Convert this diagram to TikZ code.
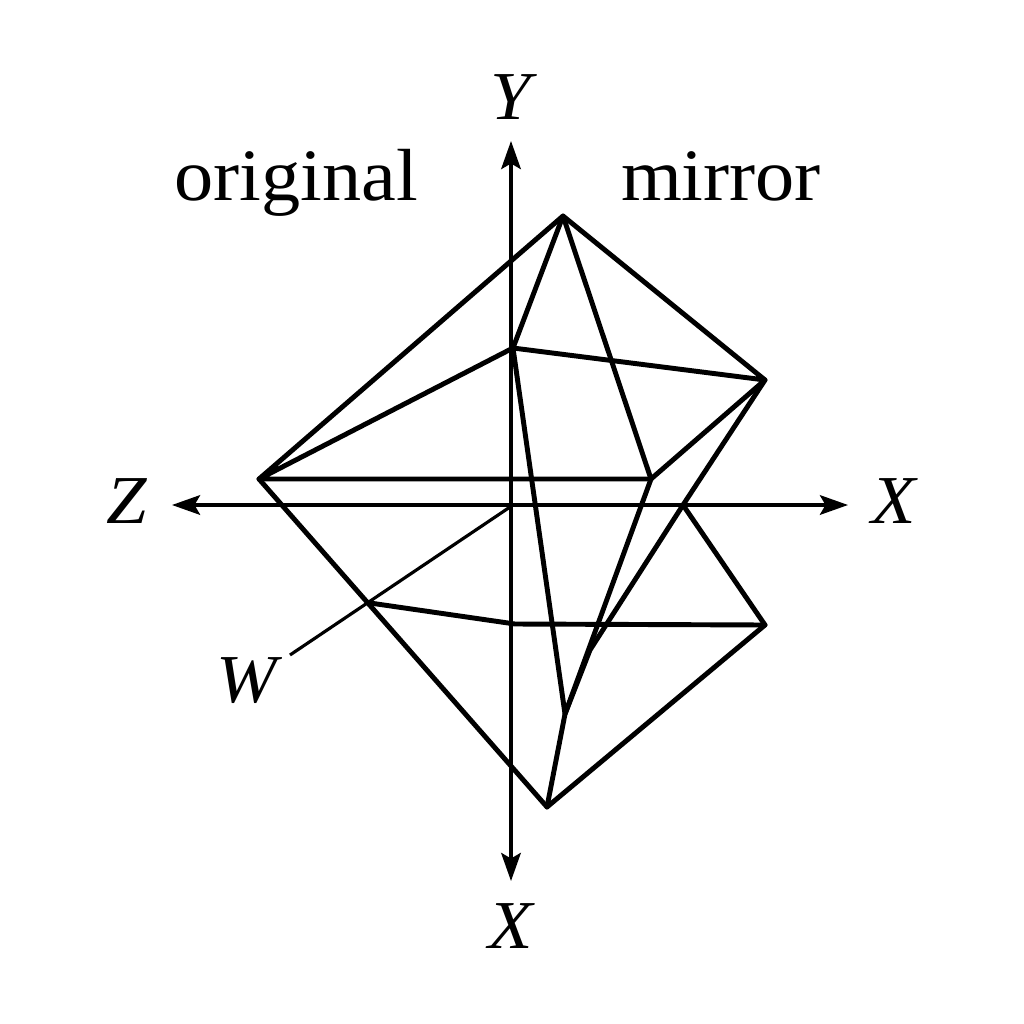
\documentclass[tikz,border=0pt]{standalone}
\usepackage{fontspec}
\setmainfont[FakeStretch=1.06]{Liberation Serif}
\usepackage{tikz}
\usetikzlibrary{arrows,arrows.meta,positioning}
\begin{document}
\begin{tikzpicture}[x=0.01cm,y=-0.01cm,
    edgeline/.style={line width=1.4pt,line join=round,line cap=round},
    axisline/.style={line width=0.9pt,{Stealth[length=8pt,width=5.6pt,inset=1.6pt]}-{Stealth[length=8pt,width=5.6pt,inset=1.6pt]}},
    axislabel/.style={font=\fontsize{19.5}{24}\selectfont\itshape,inner sep=0pt},
    sidelabel/.style={font=\fontsize{21}{26}\selectfont,inner sep=0pt,anchor=base}]
      \useasboundingbox (0,0) rectangle (1024,1024);
      % labels
      \node[axislabel] (y) at (511,97) {Y};
      \node[axislabel] (x2) at (511,926) {X};
      \node[axislabel] (z) at (127,501) {Z};
      \node[axislabel] (x1) at (894,501) {X};
      \node[axislabel] (w) at (247,681) {W};
      \node[sidelabel] (orig) at (296,200) {original};
      \node[sidelabel] (mirr) at (721,200) {mirror};
      % axis ends
      \coordinate (yt) at (511,141);
      \coordinate (yb) at (511,881);
      \coordinate (zl) at (172,505);
      \coordinate (xr) at (848,505);
      \coordinate (o) at (513,505);
      \coordinate (wend) at (290,655);
      % corners
      \coordinate (top) at (563,216);
      \coordinate (right) at (765,380);
      \coordinate (um) at (513,348);
      \coordinate (left) at (259,479);
      \coordinate (inn) at (651,479);
      \coordinate (mx) at (683,505);
      \coordinate (lr) at (765,625);
      \coordinate (bot) at (547,807);
      \coordinate (wp) at (370,603);
      \coordinate (li) at (565,714);
      \coordinate (bend) at (590,650);
      \coordinate (mid) at (515,624);
      % axes
      \draw[axisline] (yt) -- (yb);
      \draw[axisline] (zl) -- (xr);
      \draw[line width=0.9pt] (o) -- (wend);
      % solid
      \draw[edgeline] (left) -- (top) -- (right) -- (um) -- (left) -- (inn) -- (right);
      \draw[edgeline] (um) -- (top) -- (inn) -- (li) -- (um);
      \draw[edgeline] (left) -- (bot) -- (lr) -- (mx);
      \draw[edgeline] (right) -- (mx) -- (bend) -- (li) -- (bot);
      \draw[edgeline] (wp) -- (mid) -- (lr);
\end{tikzpicture}
\end{document}
